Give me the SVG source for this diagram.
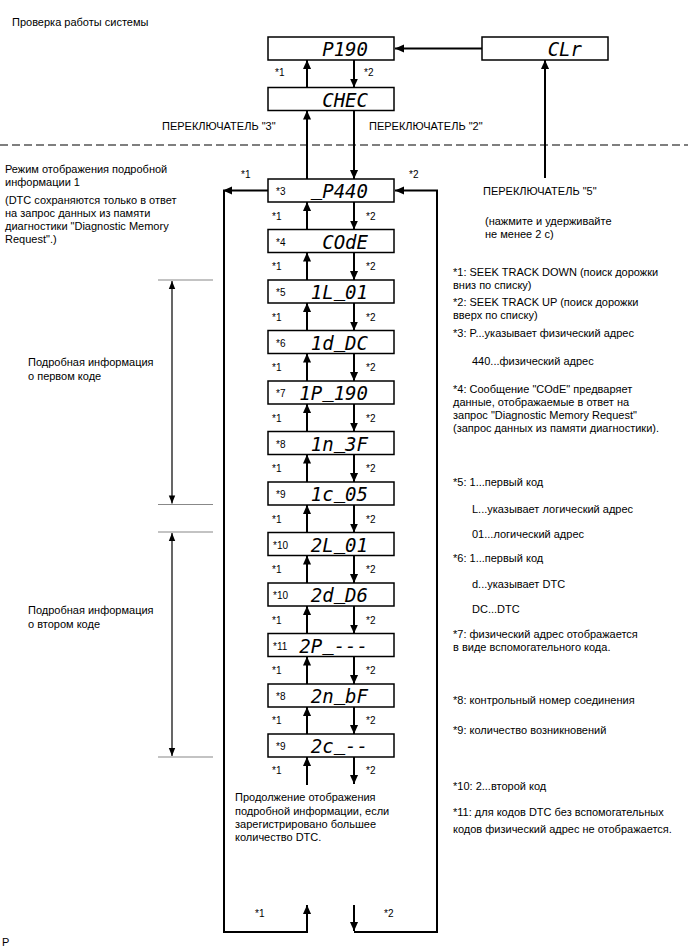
<svg xmlns="http://www.w3.org/2000/svg" width="688" height="949" viewBox="0 0 688 949">
<style>
text{font-family:"Liberation Sans",Arial,sans-serif;font-size:11px;fill:#000}
.s{font-size:10px}
.d{font-family:"DejaVu Sans Mono","Liberation Mono",monospace;font-style:oblique;font-size:19px;text-anchor:end}
.box{fill:#fff;stroke:#000;stroke-width:1.5}
.ar{fill:none;stroke:#000;stroke-width:2;marker-end:url(#ah)}
.dim{fill:none;stroke:#000;stroke-width:1.2;marker-start:url(#da);marker-end:url(#da)}
.tick{stroke:#888;stroke-width:1.2}
</style>
<defs>
<marker id="ah" viewBox="0 0 10 10" refX="10" refY="5" markerWidth="9" markerHeight="9" markerUnits="userSpaceOnUse" orient="auto"><path d="M0,0.5 L10,5 L0,9.5 z" fill="#000"/></marker>
<marker id="da" viewBox="0 0 10 10" refX="10" refY="5" markerWidth="11" markerHeight="8" markerUnits="userSpaceOnUse" orient="auto-start-reverse"><path d="M0,1 L10,5 L0,9 z" fill="#000"/></marker>
</defs>
<rect width="688" height="949" fill="#fff"/>

<text x="12" y="26">Проверка работы системы</text>
<line x1="0" y1="145" x2="688" y2="145" stroke="#555" stroke-width="1.5" stroke-dasharray="8 4"/>

<g id="n_p190"><rect class="box" x="268" y="37" width="126" height="23"/><text class="d" x="368" y="56">P190</text></g>
<g id="n_clr"><rect class="box" x="482" y="37" width="126" height="23"/><text class="d" x="582" y="56">CLr</text></g>
<g id="n_chec"><rect class="box" x="268" y="87.5" width="126" height="23"/><text class="d" x="368" y="106.5">CHEC</text></g>

<g id="n_p440"><rect class="box" x="268" y="179" width="126" height="23"/><text class="s" x="276" y="195">*3</text><text class="d" x="368" y="198"><tspan dy="-3">_</tspan><tspan dy="3">P440</tspan></text></g>
<g id="n_code"><rect class="box" x="268" y="229.5" width="126" height="23"/><text class="s" x="276" y="245.5">*4</text><text class="d" x="368" y="248.5">COdE</text></g>
<g id="n_1l01"><rect class="box" x="268" y="280" width="126" height="23"/><text class="s" x="276" y="296">*5</text><text class="d" x="368" y="299">1L<tspan dy="-3">_</tspan><tspan dy="3">01</tspan></text></g>
<g id="n_1ddc"><rect class="box" x="268" y="330.5" width="126" height="23"/><text class="s" x="276" y="346.5">*6</text><text class="d" x="368" y="349.5">1d<tspan dy="-3">_</tspan><tspan dy="3">DC</tspan></text></g>
<g id="n_1p190"><rect class="box" x="268" y="381" width="126" height="23"/><text class="s" x="276" y="397">*7</text><text class="d" x="368" y="400">1P<tspan dy="-3">_</tspan><tspan dy="3">190</tspan></text></g>
<g id="n_1n3f"><rect class="box" x="268" y="431.5" width="126" height="23"/><text class="s" x="276" y="447.5">*8</text><text class="d" x="368" y="450.5">1n<tspan dy="-3">_</tspan><tspan dy="3">3F</tspan></text></g>
<g id="n_1c05"><rect class="box" x="268" y="482" width="126" height="23"/><text class="s" x="276" y="498">*9</text><text class="d" x="368" y="501">1c<tspan dy="-3">_</tspan><tspan dy="3">05</tspan></text></g>
<g id="n_2l01"><rect class="box" x="268" y="532.5" width="126" height="23"/><text class="s" x="273" y="548.5">*10</text><text class="d" x="368" y="551.5">2L<tspan dy="-3">_</tspan><tspan dy="3">01</tspan></text></g>
<g id="n_2dd6"><rect class="box" x="268" y="583" width="126" height="23"/><text class="s" x="273" y="599">*10</text><text class="d" x="368" y="602">2d<tspan dy="-3">_</tspan><tspan dy="3">D6</tspan></text></g>
<g id="n_2p"><rect class="box" x="268" y="633.5" width="126" height="23"/><text class="s" x="273" y="649.5">*11</text><text class="d" x="368" y="652.5">2P<tspan dy="-3">_</tspan><tspan dy="3">---</tspan></text></g>
<g id="n_2nbf"><rect class="box" x="268" y="684" width="126" height="23"/><text class="s" x="276" y="700">*8</text><text class="d" x="368" y="703">2n<tspan dy="-3">_</tspan><tspan dy="3">bF</tspan></text></g>
<g id="n_2c"><rect class="box" x="268" y="734" width="126" height="23"/><text class="s" x="276" y="750">*9</text><text class="d" x="368" y="753">2c<tspan dy="-3">_</tspan><tspan dy="3">--</tspan></text></g>

<g id="connectors">
<path class="ar" d="M482,48.5 H395"/>
<path class="ar" d="M307,87.5 V60"/>
<path class="ar" d="M354,60 V87.5"/>
<path class="ar" d="M545,178 V60"/>
<path class="ar" d="M307,179 V110.5"/>
<path class="ar" d="M354,110.5 V179"/>
<path class="ar" d="M307,229.5 V202"/><path class="ar" d="M354,202 V229.5"/>
<path class="ar" d="M307,280 V252.5"/><path class="ar" d="M354,252.5 V280"/>
<path class="ar" d="M307,330.5 V303"/><path class="ar" d="M354,303 V330.5"/>
<path class="ar" d="M307,381 V353.5"/><path class="ar" d="M354,353.5 V381"/>
<path class="ar" d="M307,431.5 V404"/><path class="ar" d="M354,404 V431.5"/>
<path class="ar" d="M307,482 V454.5"/><path class="ar" d="M354,454.5 V482"/>
<path class="ar" d="M307,532.5 V505"/><path class="ar" d="M354,505 V532.5"/>
<path class="ar" d="M307,583 V555.5"/><path class="ar" d="M354,555.5 V583"/>
<path class="ar" d="M307,633.5 V606"/><path class="ar" d="M354,606 V633.5"/>
<path class="ar" d="M307,684 V656.5"/><path class="ar" d="M354,656.5 V684"/>
<path class="ar" d="M307,734 V707"/><path class="ar" d="M354,707 V734"/>
<path class="ar" d="M307,785 V757"/><path class="ar" d="M354,757 V784"/>
<path class="ar" d="M268,190.5 H223"/>
<path class="ar" d="M224,190.5 V932 H307 V905"/>
<path class="ar" d="M354,905 V931"/>
<path class="ar" d="M354,932 H437 V190.5 H395"/>
<line class="tick" x1="158" y1="280" x2="213" y2="280"/>
<line class="tick" x1="158" y1="504.5" x2="213" y2="504.5"/>
<line class="tick" x1="158" y1="532" x2="213" y2="532"/>
<line class="tick" x1="158" y1="757" x2="213" y2="757"/>
<path class="dim" d="M172,281 V503.5"/>
<path class="dim" d="M172,533 V756"/>
</g>

<g id="labels">
<text class="s" x="275" y="76">*1</text><text class="s" x="364" y="76">*2</text>
<text x="162" y="130">ПЕРЕКЛЮЧАТЕЛЬ "3"</text>
<text x="369" y="130">ПЕРЕКЛЮЧАТЕЛЬ "2"</text>
<text class="s" x="241" y="178">*1</text><text class="s" x="409" y="178">*2</text>
<text class="s" x="272" y="219.5">*1</text><text class="s" x="366" y="219.5">*2</text>
<text class="s" x="272" y="270">*1</text><text class="s" x="366" y="270">*2</text>
<text class="s" x="272" y="320.5">*1</text><text class="s" x="366" y="320.5">*2</text>
<text class="s" x="272" y="371">*1</text><text class="s" x="366" y="371">*2</text>
<text class="s" x="272" y="421.5">*1</text><text class="s" x="366" y="421.5">*2</text>
<text class="s" x="272" y="472">*1</text><text class="s" x="366" y="472">*2</text>
<text class="s" x="272" y="522.5">*1</text><text class="s" x="366" y="522.5">*2</text>
<text class="s" x="272" y="573">*1</text><text class="s" x="366" y="573">*2</text>
<text class="s" x="272" y="623.5">*1</text><text class="s" x="366" y="623.5">*2</text>
<text class="s" x="272" y="674">*1</text><text class="s" x="366" y="674">*2</text>
<text class="s" x="272" y="724">*1</text><text class="s" x="366" y="724">*2</text>
<text class="s" x="272" y="774">*1</text><text class="s" x="366" y="774">*2</text>
<text class="s" x="255" y="917">*1</text><text class="s" x="384" y="917">*2</text>
<text x="235" y="801">Продолжение отображения</text>
<text x="235" y="815">подробной информации, если</text>
<text x="235" y="828">зарегистрировано большее</text>
<text x="235" y="841">количество DTC.</text>

<text x="5" y="173">Режим отображения подробной</text>
<text x="5" y="186">информации 1</text>
<text x="5" y="204">(DTC сохраняются только в ответ</text>
<text x="5" y="217">на запрос данных из памяти</text>
<text x="5" y="230">диагностики "Diagnostic Memory</text>
<text x="5" y="243">Request".)</text>
<text x="28" y="366">Подробная информация</text>
<text x="28" y="380">о первом коде</text>
<text x="28" y="614">Подробная информация</text>
<text x="28" y="628">о втором коде</text>
<text x="2" y="946">P</text>

<text x="483" y="195">ПЕРЕКЛЮЧАТЕЛЬ "5"</text>
<text x="485" y="225">(нажмите и удерживайте</text>
<text x="485" y="238">не менее 2 с)</text>
<text x="453" y="276">*1: SEEK TRACK DOWN (поиск дорожки</text>
<text x="453" y="289">вниз по списку)</text>
<text x="453" y="306">*2: SEEK TRACK UP (поиск дорожки</text>
<text x="453" y="319">вверх по списку)</text>
<text x="453" y="337">*3: P...указывает физический адрес</text>
<text x="472" y="365">440...физический адрес</text>
<text x="453" y="393">*4: Сообщение "COdE" предваряет</text>
<text x="453" y="406">данные, отображаемые в ответ на</text>
<text x="453" y="419">запрос "Diagnostic Memory Request"</text>
<text x="453" y="432">(запрос данных из памяти диагностики).</text>
<text x="453" y="486">*5: 1...первый код</text>
<text x="472" y="513">L...указывает логический адрес</text>
<text x="472" y="538">01...логический адрес</text>
<text x="453" y="562">*6: 1...первый код</text>
<text x="472" y="588">d...указывает DTC</text>
<text x="472" y="613">DC...DTC</text>
<text x="453" y="638">*7: физический адрес отображается</text>
<text x="453" y="651">в виде вспомогательного кода.</text>
<text x="453" y="704">*8: контрольный номер соединения</text>
<text x="453" y="734">*9: количество возникновений</text>
<text x="453" y="790">*10: 2...второй код</text>
<text x="453" y="816">*11: для кодов DTC без вспомогательных</text>
<text x="453" y="833">кодов физический адрес не отображается.</text>
</g>
</svg>
